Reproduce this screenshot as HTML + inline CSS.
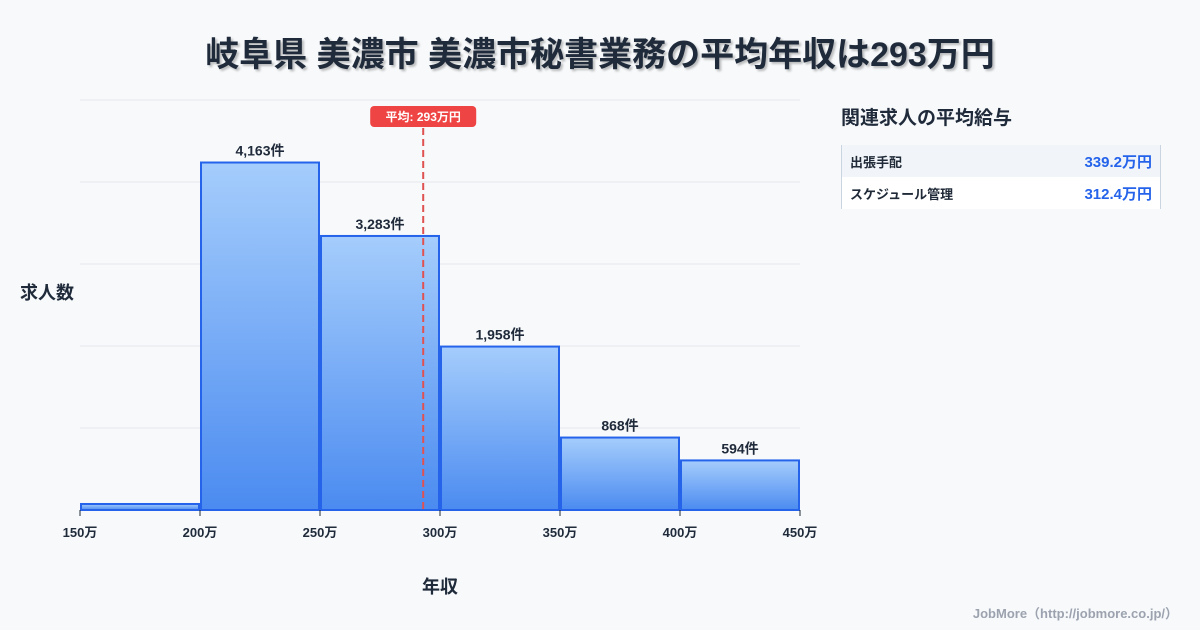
<!DOCTYPE html>
<html><head><meta charset="utf-8"><style>
body{margin:0;width:1200px;height:630px;background:#f7f9fb;font-family:"Liberation Sans","Noto Sans CJK JP",sans-serif;overflow:hidden;position:relative;color:#1f2937}
.title{position:absolute;left:0;width:1200px;top:27px;text-align:center;font-size:34px;font-weight:bold;color:#1f2a3a;text-shadow:2px 2px 2px rgba(0,0,0,0.25)}
.panel-title{position:absolute;left:841px;top:103px;font-size:19px;font-weight:bold;color:#1f2a3a}
.panel{position:absolute;left:841px;top:145px;width:318px;border-left:1px solid #cbd5e1;border-right:1px solid #cbd5e1}
.row{height:32px;display:flex;justify-content:space-between;align-items:center;padding:0 8px;font-size:13px;font-weight:bold}
.row .v{color:#2563eb;font-size:15px}
.foot{position:absolute;right:22px;top:603px;font-size:13px;color:#9ca3af;font-weight:bold}
</style></head><body>
<div class="title">岐阜県 美濃市 美濃市秘書業務の平均年収は293万円</div>
<div class="panel-title">関連求人の平均給与</div>
<div class="panel">
<div class="row" style="background:#f1f5f9"><span>出張手配</span><span class="v">339.2万円</span></div>
<div class="row" style="background:#fff"><span>スケジュール管理</span><span class="v">312.4万円</span></div>
</div>
<div class="foot">JobMore（http://jobmore.co.jp/）</div>
<svg id="chart" width="1200" height="630" style="position:absolute;left:0;top:0">
<defs><linearGradient id="g" x1="0" y1="0" x2="0" y2="1"><stop offset="0" stop-color="#a5cdfc"/><stop offset="1" stop-color="#4b8bf0"/></linearGradient></defs>
</svg>
<script>
const binStarts=[150,200,250,300,350,400];
const counts=[72,4163,3283,1958,868,594];
const labels=["","4,163件","3,283件","1,958件","868件","594件"];
const ticks=[150,200,250,300,350,400,450];
const avg=293;
const svg=document.getElementById('chart');
const NS='http://www.w3.org/2000/svg';
const x0=80,x1=800,yb=510,yt=100,ymax=4912;
const X=v=>x0+(v-150)/(450-150)*(x1-x0);
const Y=v=>yb-v/ymax*(yb-yt);
function mk(t,a,p){const e=document.createElementNS(NS,t);for(const k in a)e.setAttribute(k,a[k]);(p||svg).appendChild(e);return e;}
for(let i=0;i<=5;i++){const g=mk('line',{x1:x0,x2:x1,y1:yb-i*82,y2:yb-i*82,stroke:'#e5e7eb','stroke-width':1});

}
binStarts.forEach((b,i)=>{
const r=mk('rect',{x:X(b)+1,y:Y(counts[i]),width:X(b+50)-X(b)-2,height:yb-Y(counts[i]),fill:'url(#g)',stroke:'#2563eb','stroke-width':2});


if(labels[i]){const t=mk('text',{x:(X(b)+X(b+50))/2,y:Y(counts[i])-7,'text-anchor':'middle','font-size':14,'font-weight':'bold',fill:'#1f2a3a'});t.textContent=labels[i];

}
});
mk('line',{x1:x0,x2:x1,y1:yb,y2:yb,stroke:'#2563eb','stroke-width':2});
ticks.forEach(v=>{const l=mk('line',{x1:X(v),x2:X(v),y1:yb,y2:yb+6,stroke:'#1f2a3a'});


const t=mk('text',{x:X(v),y:537,'text-anchor':'middle','font-size':13,'font-weight':'bold',fill:'#1f2a3a'});t.textContent=v+'万';

});
const ax=X(avg);
const al=mk('line',{x1:ax,x2:ax,y1:128,y2:yb,stroke:'#e05252','stroke-width':2,'stroke-dasharray':'7,4'});


const ab=mk('rect',{x:ax-53,y:106,width:106,height:21,rx:4,fill:'#ef4444'});


const at=mk('text',{x:ax,y:121,'text-anchor':'middle','font-size':12,'font-weight':'bold',fill:'#fff'});at.textContent='平均: '+avg+'万円';


const yl=mk('text',{x:20,y:299,'font-size':18,'font-weight':'bold',fill:'#1f2a3a'});yl.textContent='求人数';


const xl=mk('text',{x:440,y:593,'text-anchor':'middle','font-size':18,'font-weight':'bold',fill:'#1f2a3a'});xl.textContent='年収';


</script>
</body></html>
